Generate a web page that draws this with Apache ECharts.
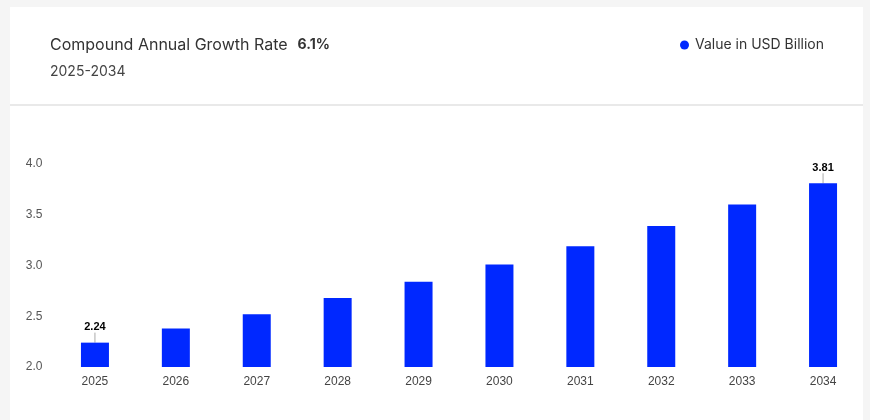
<!DOCTYPE html>
<html>
<head>
<meta charset="utf-8">
<script src="https://cdn.jsdelivr.net/npm/echarts@6/dist/echarts.min.js"></script>
<style>
html,body{margin:0;padding:0;background:#f5f5f5;}
#chart{width:870px;height:420px;}
</style>
</head>
<body>
<div id="chart"></div>
<script>
const categories = ['2025','2026','2027','2028','2029','2030','2031','2032','2033','2034'];
const values = [2.24, 2.38, 2.52, 2.68, 2.84, 3.01, 3.19, 3.39, 3.60, 3.81];
const yTicks = [2.0, 2.5, 3.0, 3.5, 4.0];
const seriesName = 'Value in USD Billion';
const cagrLabel = 'Compound Annual Growth Rate';
const cagrValue = '6.1%';
const period = '2025-2034';
const labelledIdx = [0, values.length - 1];

const chart = echarts.init(document.getElementById('chart'), null, {renderer:'canvas'});
const barColor = '#0028ff';

const data = values.map((v, i) => {
  const item = {value: v};
  if (labelledIdx.includes(i)) {
    item.label = {show: true};
    item.labelLine = {show: true};
  }
  return item;
});

chart.setOption({
  backgroundColor: '#f5f5f5',
  animation: false,
  graphic: [
    {type:'rect', shape:{x:10, y:7, width:853, height:97}, style:{fill:'#ffffff'}, silent:true, z:-10},
    {type:'rect', shape:{x:10, y:104, width:853, height:2}, style:{fill:'#e9e9e9'}, silent:true, z:-10},
    {type:'rect', shape:{x:10, y:106, width:853, height:320}, style:{fill:'#ffffff'}, silent:true, z:-10}
  ],
  title: {
    left: 50, top: 36, padding: 0,
    text: '{a|' + cagrLabel + '}  {b|' + cagrValue + '}',
    textStyle: {
      rich: {
        a: {fontFamily:'Inter', fontSize:16, color:'#333333', fontWeight:'normal'},
        b: {fontFamily:'Inter', fontSize:14, color:'#333333', fontWeight:'bold'}
      }
    },
    subtext: period,
    itemGap: 11,
    subtextStyle: {fontFamily:'Inter', fontSize:14, color:'#444444'}
  },
  legend: {
    right: 46, top: 38, padding: 0,
    icon: 'circle', itemWidth: 9, itemHeight: 9, itemGap: 10,
    textStyle: {fontFamily:'Inter', fontSize:14, color:'#333333', padding:[0,0,0,1]},
    data: [seriesName]
  },
  grid: {left: 54.5, right: 6.5, top: 164, bottom: 53, containLabel: false},
  xAxis: {
    type: 'category',
    data: categories,
    axisLine: {show: false},
    axisTick: {show: false},
    axisLabel: {fontFamily:'Arial, Liberation Sans', fontSize: 12, color:'#444444', margin: 9}
  },
  yAxis: {
    type: 'value',
    min: yTicks[0], max: yTicks[yTicks.length-1], interval: 0.5,
    splitLine: {show: false},
    axisLine: {show: false},
    axisTick: {show: false},
    axisLabel: {fontFamily:'Arial, Liberation Sans', fontSize: 12, color:'#555555', margin: 12,
      padding: [4,0,0,0], formatter: v => v.toFixed(1)}
  },
  series: [{
    name: seriesName,
    type: 'bar',
    data: data,
    barWidth: 28,
    itemStyle: {color: barColor},
    label: {show: false, position: 'top', distance: 0, fontFamily:'Arial, Liberation Sans', fontSize: 11, fontWeight:'bold', color:'#000000'},
    labelLayout: {dy: -10},
    labelLine: {show: false, lineStyle: {color:'#aaaaaa', width:1}}
  }]
});
</script>
</body>
</html>
